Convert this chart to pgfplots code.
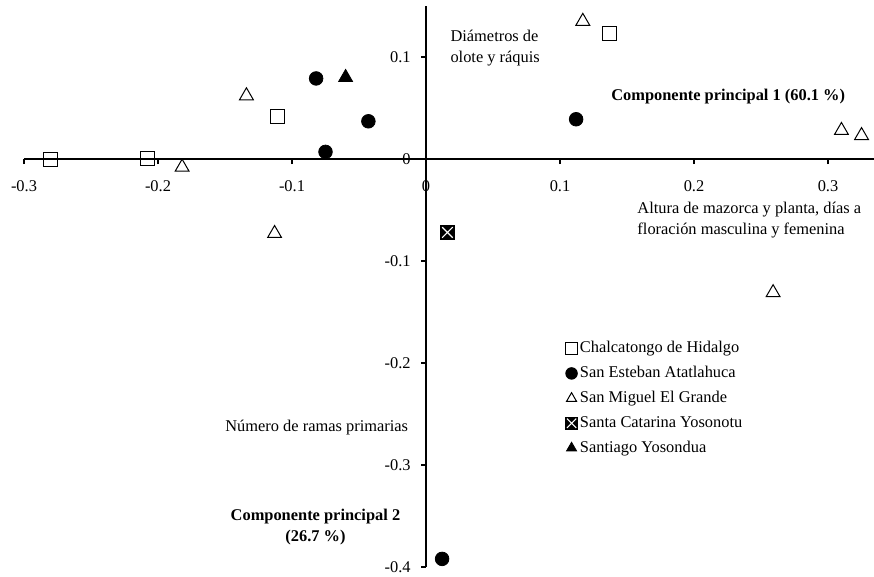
\documentclass[border=0pt]{standalone}
\usepackage{fontspec}
\setmainfont{Liberation Serif}
\usepackage{pgfplots}
\pgfplotsset{compat=1.18}

\pgfdeclareplotmark{xsquare}{%
  \pgfpathrectangle{\pgfqpoint{-\pgfplotmarksize}{-\pgfplotmarksize}}{\pgfqpoint{2\pgfplotmarksize}{2\pgfplotmarksize}}%
  \pgfusepathqfillstroke
  \begin{pgfscope}
  \pgfsetstrokecolor{white}%
  \pgfsetlinewidth{0.55pt}%
  \pgfpathmoveto{\pgfqpoint{-0.8\pgfplotmarksize}{-0.8\pgfplotmarksize}}%
  \pgfpathlineto{\pgfqpoint{0.8\pgfplotmarksize}{0.8\pgfplotmarksize}}%
  \pgfpathmoveto{\pgfqpoint{-0.8\pgfplotmarksize}{0.8\pgfplotmarksize}}%
  \pgfpathlineto{\pgfqpoint{0.8\pgfplotmarksize}{-0.8\pgfplotmarksize}}%
  \pgfusepathqstroke
  \end{pgfscope}%
}

\begin{document}
\fontsize{8.2}{10.3}\selectfont
\begin{tikzpicture}
\begin{axis}[
  x=670pt, y=510pt,
  xmin=-0.3, xmax=0.334, ymin=-0.4, ymax=0.15,
  axis lines=middle,
  axis line style={-, line width=0.9pt, black},
  tick style={black, line width=0.9pt},
  tick align=outside,
  major tick length=2.5pt,
  xtick={-0.3,-0.2,-0.1,0,0.1,0.2,0.3},
  xticklabels={-0.3,-0.2,-0.1,0,0.1,0.2,0.3},
  ytick={-0.4,-0.3,-0.2,-0.1,0,0.1},
  yticklabels={-0.4,-0.3,-0.2,-0.1,0,0.1},
  hide obscured x ticks=false, hide obscured y ticks=false,
  xticklabel style={anchor=north, inner sep=0pt, yshift=-8pt},
  yticklabel style={anchor=east, inner sep=0pt, xshift=-5pt},
  clip=false,
  legend style={draw=none, fill=none, at={(axis cs:0.0995,-0.172)}, anchor=north west,
    legend cell align=left, row sep=3pt, nodes={inner sep=1.3pt}},
  legend image code/.code={\draw[#1, mark size=2.9pt] plot coordinates {(0pt,0pt)};},
]
\addplot[only marks, mark=square, mark size=3.5pt, mark options={fill=white, draw=black, line width=0.5pt}]
  coordinates {(-0.280,0.000) (-0.208,0.001) (-0.111,0.042) (0.137,0.123)};
\addlegendentry{Chalcatongo de Hidalgo}
\addplot[only marks, mark=*, mark size=3.4pt, mark options={fill=black, draw=black}]
  coordinates {(-0.075,0.007) (-0.082,0.079) (-0.043,0.037) (0.112,0.039) (0.012,-0.392)};
\addlegendentry{San Esteban Atatlahuca}
\addplot[only marks, mark=triangle, mark size=4pt, mark options={fill=white, draw=black, line width=0.5pt}]
  coordinates {(-0.182,-0.008) (-0.134,0.062) (-0.113,-0.073) (0.117,0.135) (0.310,0.028) (0.325,0.023) (0.259,-0.131)};
\addlegendentry{San Miguel El Grande}
\addplot[only marks, mark=xsquare, mark size=3.3pt, mark options={fill=black, draw=black, line width=0.5pt}]
  coordinates {(0.016,-0.072)};
\addlegendentry{Santa Catarina Yosonotu}
\addplot[only marks, mark=triangle*, mark size=4pt, mark options={fill=black, draw=black}]
  coordinates {(-0.060,0.080)};
\addlegendentry{Santiago Yosondua}

\node[anchor=west, align=left, inner sep=0pt] at (axis cs:0.018,0.1088) {Diámetros de\\olote y ráquis};
\node[anchor=west, inner sep=0pt, font=\bfseries] at (axis cs:0.138,0.0608) {Componente principal 1 (60.1 \%)};
\node[anchor=west, align=left, inner sep=0pt] at (axis cs:0.1575,-0.0598) {Altura de mazorca y planta, días a\\floración masculina y femenina};
\node[anchor=west, inner sep=0pt] at (axis cs:-0.150,-0.2637) {Número de ramas primarias};
\node[align=center, inner sep=0pt, font=\bfseries] at (axis cs:-0.0825,-0.3608) {Componente principal 2\\(26.7 \%)};

\coordinate (BL) at (axis cs:-0.3179,-0.4088);
\coordinate (TR) at (axis cs:0.3343,0.1559);
\end{axis}
\pgfresetboundingbox
\path[use as bounding box] (BL) rectangle (TR);
\end{tikzpicture}
\end{document}
